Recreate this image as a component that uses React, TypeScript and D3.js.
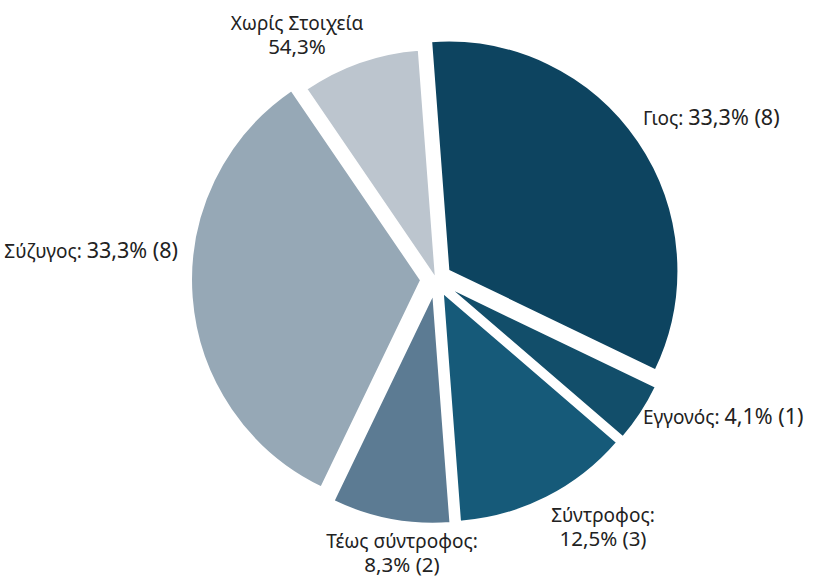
import React from "react";
import * as d3 from "d3";

const categories = ["Γιος", "Εγγονός", "Σύντροφος", "Τέως σύντροφος", "Σύζυγος", "Χωρίς Στοιχεία"];
const counts = [8, 1, 3, 2, 8, 2];
const nameLabels = ["Γιος:", "Εγγονός:", "Σύντροφος:", "Τέως σύντροφος:", "Σύζυγος:", "Χωρίς Στοιχεία"];
const valueLabels = ["33,3% (8)", "4,1% (1)", "12,5% (3)", "8,3% (2)", "33,3% (8)", "54,3%"];
const twoLine = [false, false, true, true, false, true];
const colors = ["#0d4460", "#124e6a", "#165a79", "#5c7b93", "#96a8b6", "#bcc5ce"];
const exploded = [true, true, true, true, true, false];

// label layout: x, first baseline, anchor, second-line gap
const labelLayout: [number, number, string, number][] = [
  [643, 125, "start", 0],
  [643, 424, "start", 0],
  [603, 522, "middle", 24],
  [402, 548, "middle", 24],
  [178, 258, "end", 0],
  [297, 30, "middle", 24],
];

const W = 817;
const H = 577;
const cx = 436;
const cy = 279;
const R = 230;
const explode = 15;
const rotation = (-4.3 * Math.PI) / 180;

export default function App() {
  const pie = d3
    .pie<number>()
    .sort(null)
    .value((d) => d)
    .startAngle(rotation)
    .endAngle(rotation + 2 * Math.PI);
  const arcs = pie(counts);
  const arcGen = d3.arc<d3.PieArcDatum<number>>().innerRadius(0).outerRadius(R);
  const font = "'Noto Sans', 'Open Sans', sans-serif";
  return (
    <svg width={W} height={H} style={{ position: "absolute", left: 0, top: 0 }}>
      <rect width={W} height={H} fill="#fff" />
      <g transform={`translate(${cx},${cy})`}>
        {arcs.map((a, i) => {
          const mid = (a.startAngle + a.endAngle) / 2;
          const off = exploded[i] ? explode : 0;
          const dx = Math.sin(mid) * off;
          const dy = -Math.cos(mid) * off;
          return (
            <path
              key={categories[i]}
              d={arcGen(a) || ""}
              fill={colors[i]}
              stroke="#fff"
              strokeWidth={2}
              strokeLinejoin="round"
              transform={`translate(${dx},${dy})`}
            />
          );
        })}
      </g>
      {nameLabels.map((name, i) => {
        const [x, y, anchor, gap] = labelLayout[i];
        if (twoLine[i]) {
          return (
            <g key={i} fontFamily={font} fill="#222" textAnchor={anchor as any}>
              <text x={x} y={y} fontSize={19}>{name}</text>
              <text x={x} y={y + gap} fontSize={20.5}>{valueLabels[i]}</text>
            </g>
          );
        }
        return (
          <text key={i} x={x} y={y} textAnchor={anchor as any} fontFamily={font} fill="#222">
            <tspan fontSize={19}>{name} </tspan>
            <tspan fontSize={21.5}>{valueLabels[i]}</tspan>
          </text>
        );
      })}
    </svg>
  );
}
